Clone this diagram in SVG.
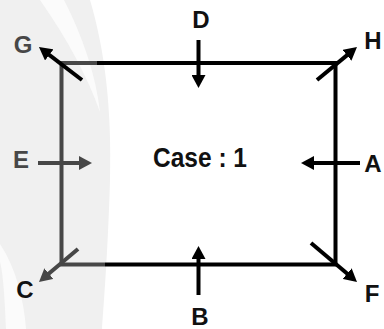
<svg xmlns="http://www.w3.org/2000/svg" width="384" height="329" viewBox="0 0 384 329">
  <style>
    .lbl { font-family: "Liberation Sans", Arial, sans-serif; font-weight: bold; font-size: 24px; text-anchor: middle; fill: #111; }
    .g { fill: #474747; }
    .ln { stroke: #000; stroke-width: 4; fill: none; }
    .gl { stroke: #474747; }
  </style>
  <defs>
    <marker id="ah" markerUnits="userSpaceOnUse" markerWidth="14" markerHeight="14" refX="5" refY="7" orient="auto">
      <path d="M0,0 L13,7 L0,14 z" fill="#000"/>
    </marker>
    <marker id="ahg" markerUnits="userSpaceOnUse" markerWidth="14" markerHeight="14" refX="5" refY="7" orient="auto">
      <path d="M0,0 L13,7 L0,14 z" fill="#474747"/>
    </marker>
  </defs>

  <g id="watermark">
    <rect width="384" height="329" fill="#fff"/>
    <path d="M0,0 H90 C105,50 112,110 110,180 C108,250 104,300 102,329 H0 Z" fill="#f0f0f0"/>
    <path d="M40,0 H64 C82,35 96,75 100,112 C88,78 68,40 40,0 Z" fill="#fbfbfb"/>
    <path d="M0,244 C16,268 24,300 26,329 H6 C5,300 3,272 0,262 Z" fill="#fbfbfb"/>
  </g>

  <g id="box">
    <path class="ln" d="M97,63 H335.5 V264.5 H105"/>
    <path class="ln gl" d="M97,63 H61.5 V264.5 H105"/>
  </g>

  <g id="connectors">
    <line class="ln" x1="198.5" y1="40" x2="198.5" y2="80" marker-end="url(#ah)"/>
    <line class="ln" x1="198.5" y1="295" x2="198.5" y2="254" marker-end="url(#ah)"/>
    <line class="ln gl" x1="38" y1="163" x2="84" y2="163" marker-end="url(#ahg)"/>
    <line class="ln" x1="360" y1="163" x2="309" y2="163" marker-end="url(#ah)"/>
    <line class="ln" x1="82" y1="80" x2="45.3" y2="51.9" marker-end="url(#ah)"/>
    <line class="ln" x1="317" y1="80" x2="350.8" y2="52.1" marker-end="url(#ah)"/>
    <line class="ln gl" x1="78" y1="249" x2="45.1" y2="276.8" marker-end="url(#ahg)"/>
    <line class="ln" x1="311" y1="243" x2="350.9" y2="276.8" marker-end="url(#ah)"/>
  </g>

  <g id="label-G"><text class="lbl g" x="23" y="53">G</text></g>
  <g id="label-D"><text class="lbl" x="201" y="28">D</text></g>
  <g id="label-H"><text class="lbl" x="373" y="49">H</text></g>
  <g id="label-E"><text class="lbl g" x="21" y="168">E</text></g>
  <g id="label-A"><text class="lbl" x="373" y="172">A</text></g>
  <g id="label-C"><text class="lbl" x="25" y="298">C</text></g>
  <g id="label-B"><text class="lbl" x="200" y="325">B</text></g>
  <g id="label-F"><text class="lbl" x="372" y="302">F</text></g>
  <g id="label-case"><text class="lbl" x="153" y="167" style="text-anchor:start;font-size:27px" textLength="94" lengthAdjust="spacingAndGlyphs">Case : 1</text></g>
</svg>
